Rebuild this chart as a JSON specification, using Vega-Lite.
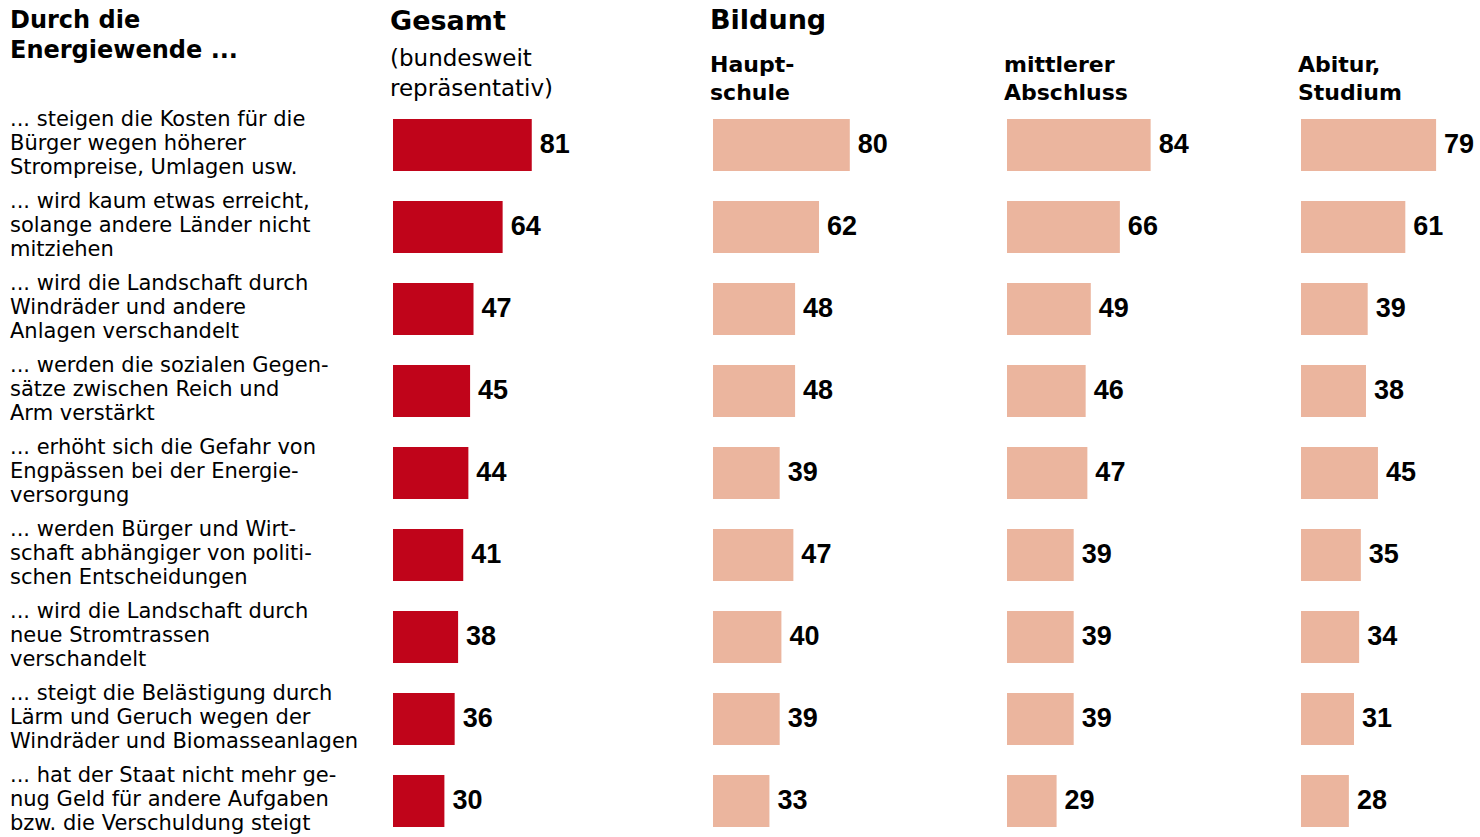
{
  "$schema": "https://vega.github.io/schema/vega-lite/v6.json",
  "padding": {"left": 10, "top": 7, "right": 0, "bottom": 0},
  "background": "#ffffff",
  "bounds": "flush",
  "spacing": 123,
  "config": {
    "view": {"stroke": null},
    "font": "DejaVu Sans",
    "title": {"anchor": "start", "color": "#000000", "fontWeight": "bold", "subtitleColor": "#000000", "font": "DejaVu Sans", "subtitleFont": "DejaVu Sans"}
  },
  "datasets": {
    "rows": [
      {"id": 1, "label": "... steigen die Kosten für die\nBürger wegen höherer\nStrompreise, Umlagen usw.", "gesamt": 81, "haupt": 80, "mittl": 84, "abitur": 79},
      {"id": 2, "label": "... wird kaum etwas erreicht,\nsolange andere Länder nicht\nmitziehen", "gesamt": 64, "haupt": 62, "mittl": 66, "abitur": 61},
      {"id": 3, "label": "... wird die Landschaft durch\nWindräder und andere\nAnlagen verschandelt", "gesamt": 47, "haupt": 48, "mittl": 49, "abitur": 39},
      {"id": 4, "label": "... werden die sozialen Gegen-\nsätze zwischen Reich und\nArm verstärkt", "gesamt": 45, "haupt": 48, "mittl": 46, "abitur": 38},
      {"id": 5, "label": "... erhöht sich die Gefahr von\nEngpässen bei der Energie-\nversorgung", "gesamt": 44, "haupt": 39, "mittl": 47, "abitur": 45},
      {"id": 6, "label": "... werden Bürger und Wirt-\nschaft abhängiger von politi-\nschen Entscheidungen", "gesamt": 41, "haupt": 47, "mittl": 39, "abitur": 35},
      {"id": 7, "label": "... wird die Landschaft durch\nneue Stromtrassen\nverschandelt", "gesamt": 38, "haupt": 40, "mittl": 39, "abitur": 34},
      {"id": 8, "label": "... steigt die Belästigung durch\nLärm und Geruch wegen der\n\u00a0Windräder und Biomasseanlagen", "gesamt": 36, "haupt": 39, "mittl": 39, "abitur": 31},
      {"id": 9, "label": "... hat der Staat nicht mehr ge-\nnug Geld für andere Aufgaben\nbzw. die Verschuldung steigt", "gesamt": 30, "haupt": 33, "mittl": 29, "abitur": 28}
    ]
  },
  "hconcat": [
    {
      "width": 260, "height": 738,
      "title": {"text": ["Durch die", "Energiewende ..."], "fontSize": 24, "lineHeight": 30, "offset": 41},
      "data": {"name": "rows"},
      "mark": {"type": "text", "align": "left", "baseline": "middle", "lineBreak": "\n", "fontSize": 21, "lineHeight": 24, "dy": -25, "color": "#000000", "font": "DejaVu Sans"},
      "encoding": {
        "y": {"field": "id", "type": "ordinal", "axis": null, "scale": {"paddingInner": 0.366, "paddingOuter": 0.183}},
        "x": {"datum": 0, "type": "quantitative", "axis": null, "scale": {"domain": [0, 1]}},
        "text": {"field": "label", "type": "nominal"}
      }
    },
    {
      "width": 197, "height": 738,
      "title": {"text": "Gesamt", "fontSize": 27, "dx": -3, "subtitle": ["(bundesweit", "repräsentativ)"], "subtitleFontSize": 23, "subtitleFontWeight": "normal", "subtitleLineHeight": 30, "subtitlePadding": 12, "offset": 2},
      "data": {"name": "rows"},
      "encoding": {
        "y": {"field": "id", "type": "ordinal", "axis": null, "scale": {"paddingInner": 0.366, "paddingOuter": 0.183}},
        "x": {"field": "gesamt", "type": "quantitative", "axis": null, "scale": {"domain": [0, 115]}}
      },
      "layer": [
        {"mark": {"type": "bar", "color": "#c0041a"}},
        {"mark": {"type": "text", "align": "left", "baseline": "middle", "dx": 8, "fontSize": 27, "fontWeight": "bold", "color": "#000000", "font": "Liberation Sans"}, "encoding": {"text": {"field": "gesamt", "type": "quantitative"}}}
      ]
    },
    {
      "width": 171, "height": 738,
      "title": {"text": "Bildung", "fontSize": 27, "dx": -3, "subtitle": ["Haupt-", "schule"], "subtitleFontSize": 22, "subtitleFontWeight": "bold", "subtitleLineHeight": 28, "subtitlePadding": 20, "offset": -1},
      "data": {"name": "rows"},
      "encoding": {
        "y": {"field": "id", "type": "ordinal", "axis": null, "scale": {"paddingInner": 0.366, "paddingOuter": 0.183}},
        "x": {"field": "haupt", "type": "quantitative", "axis": null, "scale": {"domain": [0, 100]}}
      },
      "layer": [
        {"mark": {"type": "bar", "color": "#ebb59e"}},
        {"mark": {"type": "text", "align": "left", "baseline": "middle", "dx": 8, "fontSize": 27, "fontWeight": "bold", "color": "#000000", "font": "Liberation Sans"}, "encoding": {"text": {"field": "haupt", "type": "quantitative"}}}
      ]
    },
    {
      "width": 171, "height": 738,
      "title": {"text": " ", "fontSize": 27, "dx": -3, "subtitle": ["mittlerer", "Abschluss"], "subtitleFontSize": 22, "subtitleFontWeight": "bold", "subtitleLineHeight": 28, "subtitlePadding": 20, "offset": -1},
      "data": {"name": "rows"},
      "encoding": {
        "y": {"field": "id", "type": "ordinal", "axis": null, "scale": {"paddingInner": 0.366, "paddingOuter": 0.183}},
        "x": {"field": "mittl", "type": "quantitative", "axis": null, "scale": {"domain": [0, 100]}}
      },
      "layer": [
        {"mark": {"type": "bar", "color": "#ebb59e"}},
        {"mark": {"type": "text", "align": "left", "baseline": "middle", "dx": 8, "fontSize": 27, "fontWeight": "bold", "color": "#000000", "font": "Liberation Sans"}, "encoding": {"text": {"field": "mittl", "type": "quantitative"}}}
      ]
    },
    {
      "width": 171, "height": 738,
      "title": {"text": " ", "fontSize": 27, "dx": -3, "subtitle": ["Abitur,", "Studium"], "subtitleFontSize": 22, "subtitleFontWeight": "bold", "subtitleLineHeight": 28, "subtitlePadding": 20, "offset": -1},
      "data": {"name": "rows"},
      "encoding": {
        "y": {"field": "id", "type": "ordinal", "axis": null, "scale": {"paddingInner": 0.366, "paddingOuter": 0.183}},
        "x": {"field": "abitur", "type": "quantitative", "axis": null, "scale": {"domain": [0, 100]}}
      },
      "layer": [
        {"mark": {"type": "bar", "color": "#ebb59e"}},
        {"mark": {"type": "text", "align": "left", "baseline": "middle", "dx": 8, "fontSize": 27, "fontWeight": "bold", "color": "#000000", "font": "Liberation Sans"}, "encoding": {"text": {"field": "abitur", "type": "quantitative"}}}
      ]
    }
  ]
}
